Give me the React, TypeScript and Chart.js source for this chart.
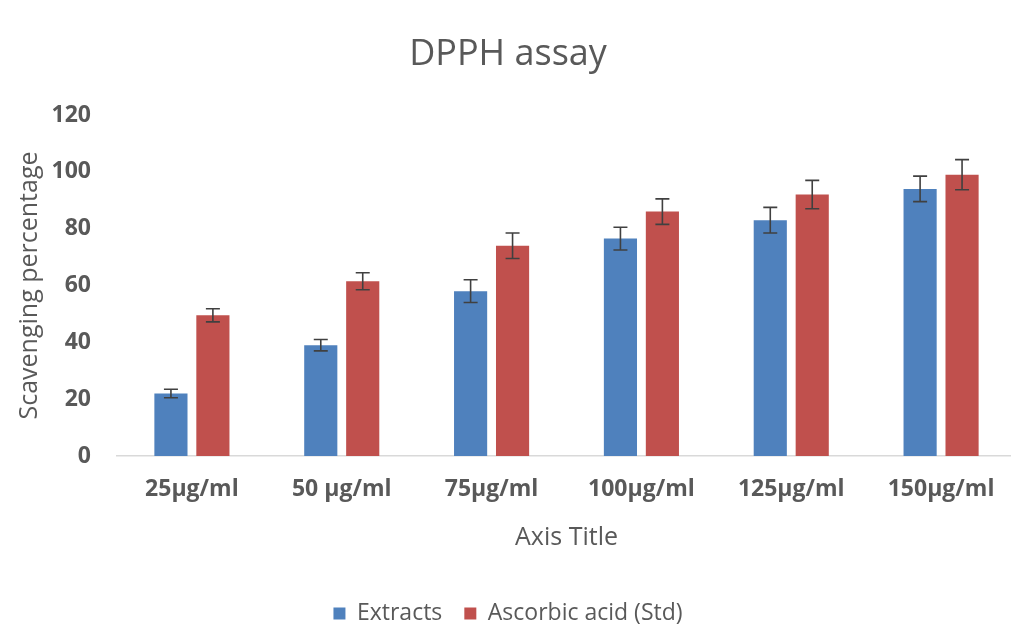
import React, { useEffect, useRef } from "react";
import { Chart, registerables } from "chart.js";

Chart.register(...registerables);

const categories = ["25µg/ml", "50 µg/ml", "75µg/ml", "100µg/ml", "125µg/ml", "150µg/ml"];
const extracts = [22, 39, 58, 76.5, 83, 94];
const extractsErr = [1.5, 2, 4, 4, 4.5, 4.5];
const ascorbic = [49.5, 61.5, 74, 86, 92, 99];
const ascorbicErr = [2.3, 3, 4.5, 4.5, 5, 5.3];
const yTicks = [0, 20, 40, 60, 80, 100, 120];

const FONT = "'Open Sans', sans-serif";
const TEXT = "#595959";
const W = 1016;
const H = 635;

const errorBarPlugin = {
  id: "errorBars",
  afterDatasetsDraw(chart: any) {
    const ctx = chart.ctx;
    const y = chart.scales.y;
    const errs = [extractsErr, ascorbicErr];
    chart.data.datasets.forEach((ds: any, di: number) => {
      const meta = chart.getDatasetMeta(di);
      meta.data.forEach((bar: any, i: number) => {
        const v = ds.data[i];
        const e = errs[di][i];
        const top = y.getPixelForValue(v + e);
        const bot = y.getPixelForValue(v - e);
        const x = bar.x;
        ctx.save();
        ctx.strokeStyle = "#404040";
        ctx.lineWidth = 1.6;
        ctx.beginPath();
        ctx.moveTo(x, top);
        ctx.lineTo(x, bot);
        ctx.moveTo(x - 7, top);
        ctx.lineTo(x + 7, top);
        ctx.moveTo(x - 7, bot);
        ctx.lineTo(x + 7, bot);
        ctx.stroke();
        ctx.restore();
      });
    });
  },
};

export default function App() {
  const ref = useRef<HTMLCanvasElement | null>(null);
  useEffect(() => {
    document.body.style.margin = "0";
    document.body.style.overflow = "hidden";
    document.documentElement.style.overflow = "hidden";
    const chart = new Chart(ref.current as HTMLCanvasElement, {
      type: "bar",
      data: {
        labels: categories,
        datasets: [
          { label: "Extracts", data: extracts, backgroundColor: "#4F81BD" },
          { label: "Ascorbic acid (Std)", data: ascorbic, backgroundColor: "#C0504D" },
        ],
      },
      options: {
        animation: false,
        responsive: false,
        devicePixelRatio: 1,
        layout: { padding: 0 },
        datasets: { bar: { categoryPercentage: 0.56, barPercentage: 0.79 } },
        plugins: {
          tooltip: { enabled: false },
          title: {
            display: true,
            text: "DPPH assay",
            color: TEXT,
            font: { family: FONT, size: 36, weight: "normal", lineHeight: 1.2 },
            padding: { top: 33.4, bottom: 38.4 },
          },
          legend: {
            position: "bottom",
            labels: {
              color: TEXT,
              boxWidth: 12,
              boxHeight: 12,
              padding: 22,
              font: { family: FONT, size: 23 },
            },
          },
        },
        scales: {
          x: {
            grid: { display: false, drawTicks: false },
            border: { display: true, color: "#d9d9d9", width: 1.5 },
            ticks: {
              color: TEXT,
              padding: 20,
              font: { family: FONT, size: 23, weight: "bold", lineHeight: 1.2 },
            },
            title: {
              display: true,
              text: "Axis Title",
              color: TEXT,
              font: { family: FONT, size: 25, lineHeight: 1.2 },
              padding: { top: 0, bottom: 27 },
            },
            afterFit(scale: any) {
              scale.height = 124;
            },
          },
          y: {
            min: 0,
            max: 120,
            afterBuildTicks(scale: any) {
              scale.ticks = yTicks.map((v) => ({ value: v }));
            },
            grid: { display: false, drawTicks: false },
            border: { display: false },
            ticks: {
              color: TEXT,
              padding: 26,
              font: { family: FONT, size: 23, weight: "bold", lineHeight: 1.2 },
            },
            title: {
              display: true,
              text: "Scavenging percentage",
              color: TEXT,
              font: { family: FONT, size: 25, lineHeight: 1.2 },
              padding: { top: 15, bottom: 0 },
            },
            afterFit(scale: any) {
              scale.width = 117;
            },
          },
        },
      },
      plugins: [errorBarPlugin],
    });
    return () => chart.destroy();
  }, []);
  return (
    <div style={{ position: "absolute", left: 0, top: 0, width: W, height: H, background: "#fff" }}>
      <canvas ref={ref} width={W} height={H} style={{ width: W, height: H }} />
    </div>
  );
}
